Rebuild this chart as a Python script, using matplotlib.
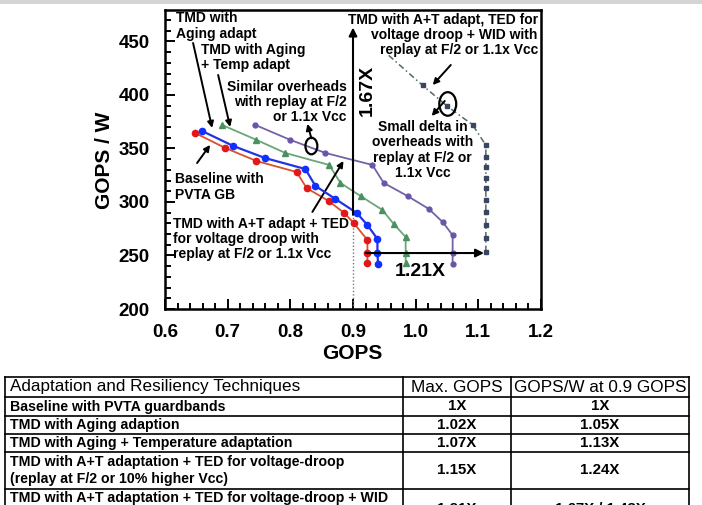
import matplotlib
matplotlib.use("Agg")
import matplotlib.pyplot as plt
from matplotlib.patches import Ellipse, Rectangle
from matplotlib.ticker import MultipleLocator

# ---------------- data ----------------
base_x = [0.648, 0.696, 0.746, 0.810, 0.826, 0.861, 0.886, 0.901, 0.923, 0.923, 0.923]
base_y = [364.5, 350.5, 338.3, 328.0, 313.0, 301.0, 289.7, 280.4, 264.5, 252.3, 243.0]

aging_x = [0.659, 0.709, 0.760, 0.824, 0.840, 0.872, 0.906, 0.923, 0.939, 0.939, 0.940]
aging_y = [366.4, 352.3, 341.0, 330.8, 315.0, 302.8, 289.7, 278.5, 265.4, 252.3, 242.0]

temp_x = [0.691, 0.746, 0.792, 0.862, 0.880, 0.912, 0.947, 0.965, 0.984, 0.984, 0.984]
temp_y = [372.0, 358.0, 345.8, 334.6, 317.8, 305.6, 292.5, 279.4, 267.3, 252.3, 243.0]

ted_x = [0.744, 0.800, 0.856, 0.931, 0.949, 0.987, 1.021, 1.043, 1.059, 1.059, 1.059]
ted_y = [372.0, 358.0, 345.8, 334.6, 317.8, 305.6, 293.5, 281.3, 269.0, 252.3, 242.0]

wid_x = [0.957, 1.011, 1.050, 1.091, 1.112, 1.112, 1.112, 1.112, 1.112, 1.112, 1.112, 1.112, 1.112, 1.112]
wid_y = [437.0, 409.0, 389.7, 372.0, 353.0, 342.0, 332.7, 322.4, 313.0, 301.9, 290.7, 278.5, 266.4, 253.3]

xticks = [0.6, 0.7, 0.8, 0.9, 1.0, 1.1, 1.2]
xtick_labels = ["0.6", "0.7", "0.8", "0.9", "1.0", "1.1", "1.2"]
yticks = [200, 250, 300, 350, 400, 450]

techniques = ["Baseline with PVTA guardbands",
              "TMD with Aging adaption",
              "TMD with Aging + Temperature adaptation",
              "TMD with A+T adaptation + TED for voltage-droop\n(replay at F/2 or 10% higher Vcc)",
              "TMD with A+T adaptation + TED for voltage-droop + WID"]
max_gops = ["1X", "1.02X", "1.07X", "1.15X", "1.21X"]
gops_w = ["1X", "1.05X", "1.13X", "1.24X", "1.67X / 1.43X"]
table_header = ["Adaptation and Resiliency Techniques", "Max. GOPS", "GOPS/W at 0.9 GOPS"]

# ---------------- figure ----------------
plt.rcParams['font.family'] = ['Liberation Sans', 'DejaVu Sans']
W, H = 702, 505
fig = plt.figure(figsize=(W / 100, H / 100), dpi=100)
fig.patch.set_facecolor('white')

# top light gray strip
fig.add_artist(Rectangle((0, 1 - 4 / H), 1, 4 / H, transform=fig.transFigure,
                         color='#d4d4d4', lw=0))

ax = fig.add_axes([165 / W, 1 - 309 / H, 376 / W, 299 / H])
ax.set_xlim(0.6, 1.2)
ax.set_ylim(200, 479.4)

lw = 1.3
ax.plot(base_x, base_y, color='#d9502a', lw=lw, marker='o', ms=4.5,
        mfc='#e01818', mec='#e01818', zorder=3)
ax.plot(aging_x, aging_y, color='#2233e0', lw=lw + 0.3, marker='o', ms=4.5,
        mfc='#1030ff', mec='#1030ff', zorder=4)
ax.plot(temp_x, temp_y, color='#6aa678', lw=lw, marker='^', ms=4.5,
        mfc='#4a9060', mec='#4a9060', zorder=3)
ax.plot(ted_x, ted_y, color='#7462a6', lw=lw, marker='o', ms=3.5,
        mfc='#6a55a8', mec='#6a55a8', zorder=3)
ax.plot(wid_x, wid_y, color='#4f6a6a', lw=1.1, ls=(0, (4, 2, 1, 2)), marker='s', ms=3.5,
        mfc='#3a4660', mec='#3a4660', markevery=list(range(1, len(wid_x))), zorder=3)

# spines/ticks
for s in ax.spines.values():
    s.set_linewidth(1.8)
ax.set_xticks(xticks)
ax.set_xticklabels(xtick_labels)
ax.set_yticks(yticks)
ax.xaxis.set_minor_locator(MultipleLocator(0.02))
ax.yaxis.set_minor_locator(MultipleLocator(10))
ax.tick_params(which='both', direction='in', top=False, right=False, width=1.4)
ax.tick_params(which='major', length=7, labelsize=13.5, pad=11)
ax.tick_params(which='minor', length=4)
for lab in ax.get_xticklabels() + ax.get_yticklabels():
    lab.set_fontweight('bold')
ax.set_xlabel("GOPS", fontsize=15, fontweight='bold')
ax.set_ylabel("GOPS / W", fontsize=15, fontweight='bold')
ax.xaxis.set_label_coords(0.497, -0.117)
ax.yaxis.set_label_coords(-0.136, 0.498)

# reference lines / arrows
ax.plot([0.9, 0.9], [200, 288], color='#777777', lw=1.0, ls=(0, (1, 1.5)), zorder=2)
arrowkw = dict(arrowstyle='-|>', color='black', lw=1.5, mutation_scale=12, shrinkA=0, shrinkB=0)
ax.annotate('', xy=(0.9, 463), xytext=(0.9, 288), arrowprops=arrowkw, zorder=5)
ax.annotate('', xy=(1.109, 252.3), xytext=(0.92, 252.3), arrowprops=arrowkw, zorder=5)
ax.text(0.923, 404.7, "1.67X", rotation=90, fontsize=14, fontweight='bold',
        ha='center', va='center')
ax.text(1.008, 234.6, "1.21X", fontsize=14, fontweight='bold', ha='center', va='center')

tfs = 10
tk = dict(fontsize=tfs, fontweight='bold', linespacing=1.12, zorder=6)
ax.text(0.6176, 464.5, "TMD with\nAging adapt", ha='left', va='center', **tk)
ax.text(0.657, 435.0, "TMD with Aging\n+ Temp adapt", ha='left', va='center', **tk)
ax.text(0.8896, 393.5, "Similar overheads\nwith replay at F/2\nor 1.1x Vcc", ha='right',
        va='center', multialignment='right', **tk)
ax.text(1.195, 456.0, "TMD with A+T adapt, TED for\nvoltage droop + WID with\nreplay at F/2 or 1.1x Vcc",
        ha='right', va='center', multialignment='right', **tk)
ax.text(1.011, 348.6, "Small delta in\noverheads with\nreplay at F/2 or\n1.1x Vcc",
        ha='center', va='center', multialignment='center', **tk)
ax.text(0.616, 314.0, "Baseline with\nPVTA GB", ha='left', va='center', **tk)
ax.text(0.6128, 265.4, "TMD with A+T adapt + TED\nfor voltage droop with\nreplay at F/2 or 1.1x Vcc",
        ha='left', va='center', **tk)

pk = dict(arrowstyle='-|>', color='black', lw=1.4, mutation_scale=9, shrinkA=0, shrinkB=0)
ax.annotate('', xy=(0.6752, 369.2), xytext=(0.6448, 448.6), arrowprops=pk)
ax.annotate('', xy=(0.704, 370.1), xytext=(0.6848, 418.7), arrowprops=pk)
ax.annotate('', xy=(0.672, 353.3), xytext=(0.6512, 336.4), arrowprops=pk)
ax.annotate('', xy=(0.8848, 338.3), xytext=(0.8352, 290.7), arrowprops=pk)
ax.annotate('', xy=(1.0272, 409.3), xytext=(1.056, 428.0), arrowprops=pk)
ax.annotate('', xy=(1.0256, 380.4), xytext=(1.0464, 394.4), arrowprops=pk)
ax.annotate('', xy=(0.8272, 373.0), xytext=(0.8336, 359.5), arrowprops=pk)
ax.add_patch(Ellipse((0.8336, 352.3), 0.019, 15.5, angle=0, fill=False, lw=1.6, ec='black', zorder=6))
ax.add_patch(Ellipse((1.0512, 391.6), 0.027, 22.0, angle=0, fill=False, lw=1.6, ec='black', zorder=6))

# ---------------- table ----------------
tax = fig.add_axes([0, 0, 1, 1])
tax.set_xlim(0, W)
tax.set_ylim(H, 0)
tax.axis('off')
col_x = [5, 403, 511, 689]
row_y = [377, 397, 416, 434, 452, 489, 526]
lk = dict(color='black', lw=1.2)
for yy in row_y:
    tax.plot([col_x[0], col_x[-1]], [yy, yy], **lk)
for xx in col_x:
    tax.plot([xx, xx], [row_y[0], row_y[-1]], **lk)
hfs = 12.3
rfs = 10.2
vfs = 10.8
tax.text(10, (row_y[0] + row_y[1]) / 2, table_header[0], fontsize=hfs,
         ha='left', va='center')
tax.text((col_x[1] + col_x[2]) / 2, (row_y[0] + row_y[1]) / 2, table_header[1],
         fontsize=hfs, ha='center', va='center')
tax.text((col_x[2] + col_x[3]) / 2, (row_y[0] + row_y[1]) / 2, table_header[2],
         fontsize=hfs, ha='center', va='center')
for i in range(5):
    yc = (row_y[i + 1] + row_y[i + 2]) / 2
    if i == 4:
        yt = row_y[5] + 9
        yc = 509
    else:
        yt = yc
    tax.text(10, yt, techniques[i], fontsize=rfs, fontweight='bold',
             ha='left', va='center', linespacing=1.2)
    tax.text((col_x[1] + col_x[2]) / 2, yc, max_gops[i], fontsize=vfs,
             fontweight='bold', ha='center', va='center')
    tax.text((col_x[2] + col_x[3]) / 2, yc, gops_w[i], fontsize=vfs,
             fontweight='bold', ha='center', va='center')

fig.savefig("out.png", dpi=100)
